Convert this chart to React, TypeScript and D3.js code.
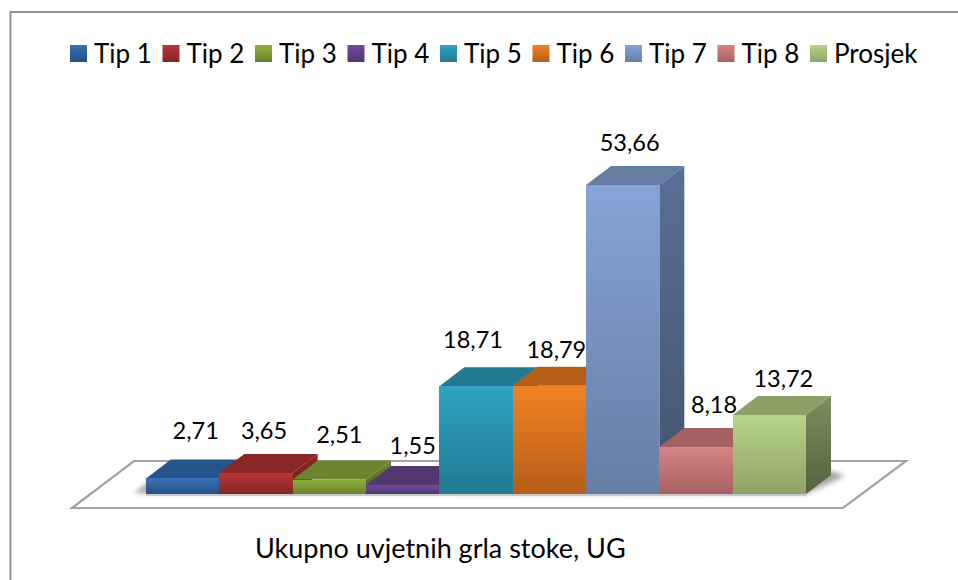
// 3D column chart with floor, drawn with D3 scales
import * as d3 from 'd3';

const categories = ['Tip 1', 'Tip 2', 'Tip 3', 'Tip 4', 'Tip 5', 'Tip 6', 'Tip 7', 'Tip 8', 'Prosjek'];
const values = [2.71, 3.65, 2.51, 1.55, 18.71, 18.79, 53.66, 8.18, 13.72];
const valueLabels = ['2,71', '3,65', '2,51', '1,55', '18,71', '18,79', '53,66', '8,18', '13,72'];
const axisTitle = 'Ukupno uvjetnih grla stoke, UG';

// [front top, front bottom, top face, side top, side bottom]
const palette = [
  ['#3a70b6', '#264f85', '#27548a', '#27548a', '#1d3f68'],
  ['#b93635', '#832524', '#8a2726', '#8a2726', '#6a1d1c'],
  ['#8fb13e', '#67832c', '#6b852e', '#6b852e', '#506523'],
  ['#704b9b', '#503770', '#533870', '#533870', '#3e2a55'],
  ['#2fa3c3', '#217a93', '#227a90', '#227a90', '#195c6e'],
  ['#f38225', '#b45e17', '#b65f18', '#b65f18', '#8b4812'],
  ['#86a4d8', '#677da3', '#657da3', '#5a6f94', '#43546e'],
  ['#d68485', '#a56162', '#a46263', '#a46263', '#7c4a4a'],
  ['#b9d48a', '#8ea267', '#8ca068', '#7b8e5e', '#54633f'],
];

// hand placement of the data labels, relative to each bar's centre and top
const labelDx = [13, 8, 10, 10, -3, 7, 7, 18, 14];
const labelDy = [-39, -34, -36.5, -31, -38, -28, -34, -34, -28];

const WIDTH = 958;
const HEIGHT = 580;
const BASE_Y = 494;
const TOP_Y = 185;
const DEPTH_X = 25;
const DEPTH_Y = 19;
const FONT = 'Lato, sans-serif';

const x = d3.scaleBand<string>().domain(categories).range([146, 806]).padding(0);
const y = d3.scaleLinear().domain([0, d3.max(values) as number]).range([BASE_Y, TOP_Y]);
const legendX = d3.scaleBand<string>().domain(categories).range([70, 902.5]).padding(0);

const pts = (list: number[][]) => list.map(p => p.join(',')).join(' ');

export default function App() {
  const w = x.bandwidth();
  const x0 = x(categories[0]) as number;
  const x1 = (x(categories[categories.length - 1]) as number) + w;

  return (
    <svg
      width={WIDTH}
      height={HEIGHT}
      style={{ position: 'absolute', left: 0, top: 0, background: '#fff' }}
    >
      <defs>
        {palette.map((c, i) => (
          <g key={i}>
            <linearGradient id={`front-${i}`} x1="0" y1="0" x2="0" y2="1">
              <stop offset="0" stopColor={c[0]} />
              <stop offset="1" stopColor={c[1]} />
            </linearGradient>
            <linearGradient id={`side-${i}`} x1="0" y1="0" x2="0" y2="1">
              <stop offset="0" stopColor={c[3]} />
              <stop offset="1" stopColor={c[4]} />
            </linearGradient>
          </g>
        ))}
        <filter id="soft" x="-10%" y="-100%" width="120%" height="300%">
          <feGaussianBlur stdDeviation="2.5" />
        </filter>
      </defs>

      <path d={`M10.5,${HEIGHT} V12 H${WIDTH}`} fill="none" stroke="#929292" strokeWidth={2} />

      {/* floor */}
      <polygon
        points={pts([[72, 508], [134, 461], [906, 461], [843, 508]])}
        fill="#fff"
        stroke="#a3a3a3"
        strokeWidth={2.2}
      />

      {/* shadow under the bars */}
      <polygon
        points={pts([
          [x0 - 12, BASE_Y - 1],
          [x1, BASE_Y],
          [x1 + DEPTH_X + 14, BASE_Y - DEPTH_Y + 1],
          [x1 + DEPTH_X, BASE_Y - DEPTH_Y - 4],
          [x0, BASE_Y - 10],
        ])}
        fill="#666"
        opacity={0.6}
        filter="url(#soft)"
      />
      <line x1={x0} x2={x1} y1={BASE_Y + 1} y2={BASE_Y + 1} stroke="#c9c9c9" strokeWidth={2} />

      {/* bars, left to right so the next bar covers the side of the previous one */}
      {categories.map((cat, i) => {
        const left = x(cat) as number;
        const right = left + w;
        const top = y(values[i]);
        return (
          <g key={cat}>
            <polygon
              points={pts([
                [left, top],
                [left + DEPTH_X, top - DEPTH_Y],
                [right + DEPTH_X, top - DEPTH_Y],
                [right, top],
              ])}
              fill={palette[i][2]}
            />
            <polygon
              points={pts([
                [right, top],
                [right + DEPTH_X, top - DEPTH_Y],
                [right + DEPTH_X, BASE_Y - DEPTH_Y],
                [right, BASE_Y],
              ])}
              fill={`url(#side-${i})`}
            />
            <rect
              x={left}
              y={top}
              width={w}
              height={BASE_Y - top}
              fill={`url(#front-${i})`}
              shapeRendering="crispEdges"
            />
          </g>
        );
      })}

      {/* data labels */}
      {categories.map((cat, i) => (
        <text
          key={cat}
          x={(x(cat) as number) + w / 2 + labelDx[i]}
          y={y(values[i]) + labelDy[i]}
          textAnchor="middle"
          fontFamily={FONT}
          fontSize={23.5}
          fill="#000"
        >
          {valueLabels[i]}
        </text>
      ))}

      {/* legend */}
      {categories.map((cat, i) => {
        const lx = legendX(cat) as number;
        return (
          <g key={cat}>
            <rect x={lx} y={45} width={17} height={17} fill={`url(#front-${i})`} />
            <text x={lx + 24} y={63} fontFamily={FONT} fontSize={26} fill="#000">
              {cat}
            </text>
          </g>
        );
      })}

      <text x={255} y={558} fontFamily={FONT} fontSize={27} fill="#000">
        {axisTitle}
      </text>
    </svg>
  );
}
